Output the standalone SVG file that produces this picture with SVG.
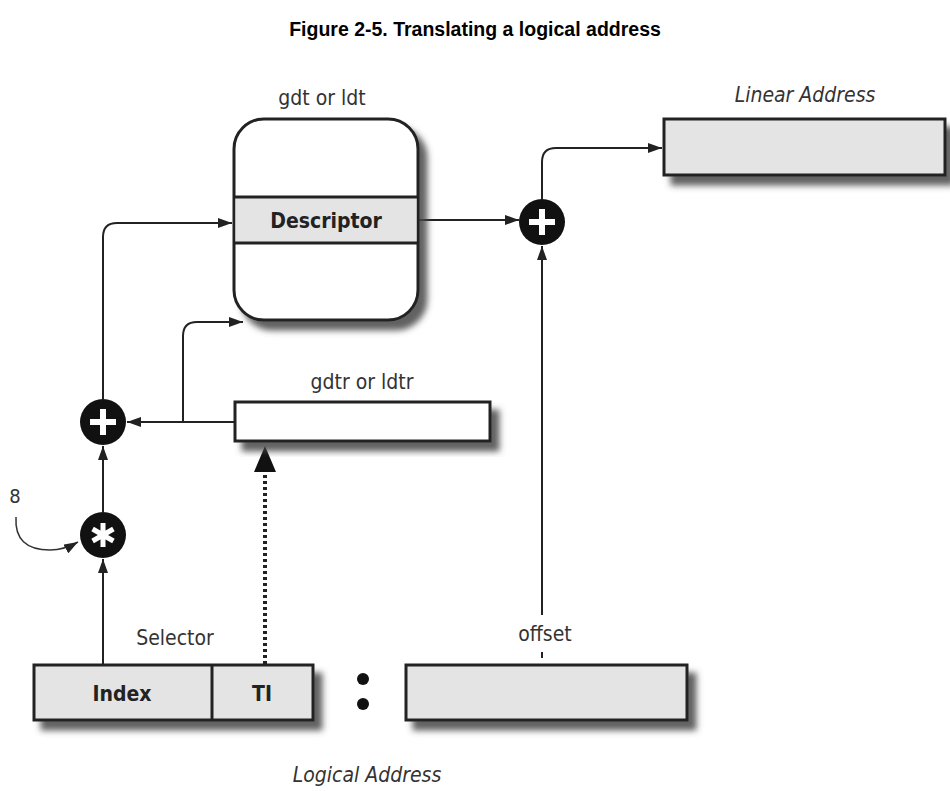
<svg xmlns="http://www.w3.org/2000/svg" width="950" height="791" viewBox="0 0 950 791">
<defs>
<filter id="sh" x="-10%" y="-10%" width="130%" height="150%">
<feDropShadow dx="8" dy="9" stdDeviation="3" flood-color="#444" flood-opacity="0.85"/>
</filter>
<marker id="ah" viewBox="0 0 14 10" refX="14" refY="5" markerWidth="14" markerHeight="10" markerUnits="userSpaceOnUse" orient="auto">
<path d="M0,0 L14,5 L0,10 Z" fill="#222"/>
</marker>
</defs>
<style>
.t{font-family:"Liberation Sans Narrow","DejaVu Sans Condensed","Liberation Sans",sans-serif;fill:#333;text-anchor:middle}
.b{font-weight:bold;fill:#222}
.i{font-style:italic}
.box{stroke:#222;stroke-width:3}
.ln{stroke:#222;stroke-width:2;fill:none}
.op{fill:#111}
.sym{stroke:#fff;stroke-width:6}
</style>
<text x="475" y="36" style="font-family:'Liberation Sans',Arial,sans-serif;font-weight:bold;font-size:19.5px;text-anchor:middle;fill:#000">Figure 2-5. Translating a logical address</text>

<g id="connectors">
<path class="ln" d="M418,220 L519,220" marker-end="url(#ah)"/>
<path class="ln" d="M542,199 L542,162 Q542,148 556,148 L662,148" marker-end="url(#ah)"/>
<path class="ln" d="M542,658 L542,652"/>
<path class="ln" d="M542,615 L542,246" marker-end="url(#ah)"/>
<path class="ln" d="M234,422 L127,422" marker-end="url(#ah)"/>
<path class="ln" d="M183,422 L183,336 Q183,322 197,322 L243,322" marker-end="url(#ah)"/>
<path class="ln" d="M103,399 L103,237 Q103,223 117,223 L232,223" marker-end="url(#ah)"/>
<path class="ln" d="M103,512 L103,446" marker-end="url(#ah)"/>
<path class="ln" d="M103,664 L103,559" marker-end="url(#ah)"/>
<path d="M265,664 L265,470" stroke="#222" stroke-width="4" stroke-dasharray="3,3" fill="none"/>
<path d="M254,472 L265,446 L276,472 Z" fill="#111"/>
<path d="M16,517 Q14,550 50,550 Q64,550 78,542" stroke="#333" stroke-width="1.5" fill="none" marker-end="url(#ah)"/>
</g>

<g id="gdt">
<text class="t" x="322" y="105" font-size="21">gdt or ldt</text>
<rect class="box" x="234" y="119" width="184" height="201" rx="30" fill="#fff" filter="url(#sh)"/>
<rect x="235.5" y="197" width="181" height="46" fill="#e4e4e4"/>
<line class="box" x1="234" y1="197" x2="418" y2="197"/>
<line class="box" x1="234" y1="243" x2="418" y2="243"/>
<text class="t b" x="326" y="228" font-size="21">Descriptor</text>
</g>

<g id="linear">
<text class="t i" x="805" y="102" font-size="21">Linear Address</text>
<rect class="box" x="664" y="119" width="281" height="56" fill="#e4e4e4" filter="url(#sh)"/>
</g>

<g id="plus-right">
<circle class="op" cx="542" cy="222" r="23"/>
<path class="sym" d="M542,209 L542,235 M529,222 L555,222"/>
</g>

<g id="plus-left">
<circle class="op" cx="103" cy="422" r="23"/>
<path class="sym" d="M103,409 L103,435 M90,422 L116,422"/>
</g>

<g id="mult">
<circle class="op" cx="103" cy="535" r="23"/>
<path d="M103,523 L103,547 M92.6,529 L113.4,541 M92.6,541 L113.4,529" stroke="#fff" stroke-width="5"/>
</g>

<g id="eight">
<text class="t" x="15" y="503" font-size="20">8</text>
</g>

<g id="gdtr">
<text class="t" x="362" y="389" font-size="21">gdtr or ldtr</text>
<rect class="box" x="235" y="402" width="255" height="39" fill="#fff" filter="url(#sh)"/>
</g>

<g id="selector">
<text class="t" x="175" y="645" font-size="21">Selector</text>
<rect class="box" x="34" y="665" width="279" height="55" fill="#e4e4e4" filter="url(#sh)"/>
<line class="box" x1="212" y1="665" x2="212" y2="720"/>
<text class="t b" x="122" y="701" font-size="21">Index</text>
<text class="t b" x="262" y="701" font-size="21">TI</text>
</g>

<g id="colon">
<circle cx="363" cy="679" r="6" fill="#111"/>
<circle cx="363" cy="704" r="6" fill="#111"/>
</g>

<g id="offset">
<text class="t" x="545" y="641" font-size="21">offset</text>
<rect class="box" x="406" y="665" width="281" height="55" fill="#e4e4e4" filter="url(#sh)"/>
</g>

<text class="t i" x="367" y="782" font-size="21">Logical Address</text>
</svg>
